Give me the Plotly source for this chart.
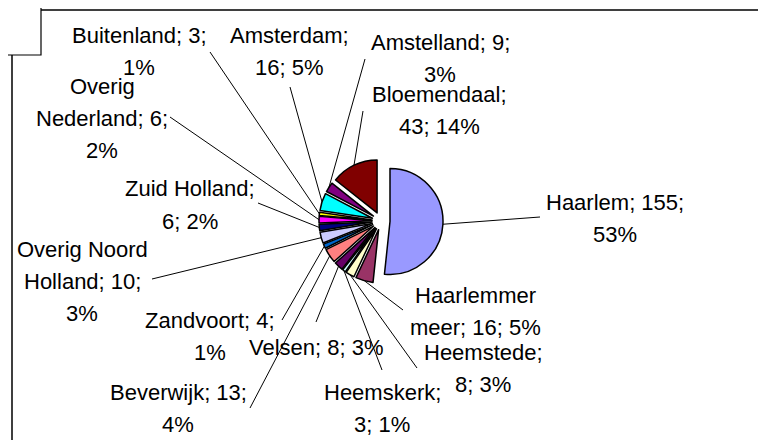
import math
import plotly.graph_objects as go

# ---- data ----
names = ["Haarlem", "Haarlemmer meer", "Heemstede", "Heemskerk", "Velsen",
         "Beverwijk", "Zandvoort", "Overig Noord Holland", "Zuid Holland",
         "Overig Nederland", "Buitenland", "Amsterdam", "Amstelland", "Bloemendaal"]
values = [155, 16, 8, 3, 8, 13, 4, 10, 6, 6, 3, 16, 9, 43]
percents = [53, 5, 3, 1, 3, 4, 1, 3, 2, 2, 1, 5, 3, 14]
colors = ["#9999FF", "#993366", "#FFFFCC", "#CCFFFF", "#660066", "#FF8080",
          "#0066CC", "#CCCCFF", "#000080", "#FF00FF", "#FFFF00", "#00FFFF",
          "#800080", "#800000"]
# word index after which each label wraps
breaks = [[2], [1], [1], [1], [], [2], [2], [2, 4], [2], [1, 3], [2], [1], [2], [1]]

# ---- layout (page pixels) ----
OFF = 8  # default body margin of the html page
W, H = 766 - OFF, 440 - OFF
CX, CY, R, PULL = 381, 221, 53, 0.17
label_pos = [(615, 218), (475, 311), (483, 368), (382, 408), (316, 347),
             (178, 408), (210, 336), (82, 281), (190, 205), (102, 118),
             (139, 52), (289, 52), (440, 58), (439, 110)]
leader_start = [(540, 217), (403, 310), (417, 368), (382, 370), (316, 322),
                (250, 408), (282, 320), (152, 279), (258, 203), (170, 117),
                (210, 52), (290, 87), (365, 59), (363, 111)]
LINE_H = 32


def px(x):
    return (x - OFF) / W


def py(y):
    return 1 - (y - OFF) / H


half = R * (1 + PULL)
fig = go.Figure(go.Pie(
    labels=names, values=values, sort=False, direction="clockwise", rotation=0,
    pull=[PULL] * len(values), textinfo="none", hoverinfo="label+value+percent",
    marker=dict(colors=colors, line=dict(color="black", width=1.5)),
    domain=dict(x=[px(CX - half), px(CX + half)], y=[py(CY + half), py(CY - half)]),
    showlegend=False,
))

shapes = [
    dict(type="rect", xref="paper", yref="paper", x0=px(12), y0=py(470), x1=px(760), y1=py(10),
         line=dict(color="black", width=1.5), fillcolor="rgba(0,0,0,0)", layer="below"),
    dict(type="rect", xref="paper", yref="paper", x0=px(-10), y0=py(55), x1=px(41), y1=py(-10),
         line=dict(color="black", width=1.2), fillcolor="white", layer="above"),
]
annotations = []
total = sum(values)
cum = 0
for i, (n, v, p) in enumerate(zip(names, values, percents)):
    mid = (cum + v / 2) / total * 2 * math.pi
    cum += v
    ex = CX + half * math.sin(mid)
    ey = CY - half * math.cos(mid)
    sx, sy = leader_start[i]
    shapes.append(dict(type="line", xref="paper", yref="paper",
                       x0=px(sx), y0=py(sy), x1=px(ex), y1=py(ey),
                       line=dict(color="black", width=1), layer="above"))
    tokens = f"{n}; {v}; {p}%".split(" ")
    lines, start = [], 0
    for b in breaks[i] + [len(tokens)]:
        lines.append(" ".join(tokens[start:b]))
        start = b
    lx, ly = label_pos[i]
    top = ly - (len(lines) - 1) * LINE_H / 2
    for k, t in enumerate(lines):
        annotations.append(dict(text=t, x=px(lx), y=py(top + k * LINE_H), xref="paper", yref="paper",
                                xanchor="center", yanchor="middle", showarrow=False,
                                font=dict(family="Liberation Sans, Arial", size=22, color="black")))

fig.update_layout(width=W, height=H, autosize=False, margin=dict(l=0, r=0, t=0, b=0),
                  paper_bgcolor="white", plot_bgcolor="white",
                  shapes=shapes, annotations=annotations)
fig.write_html("out.html")
